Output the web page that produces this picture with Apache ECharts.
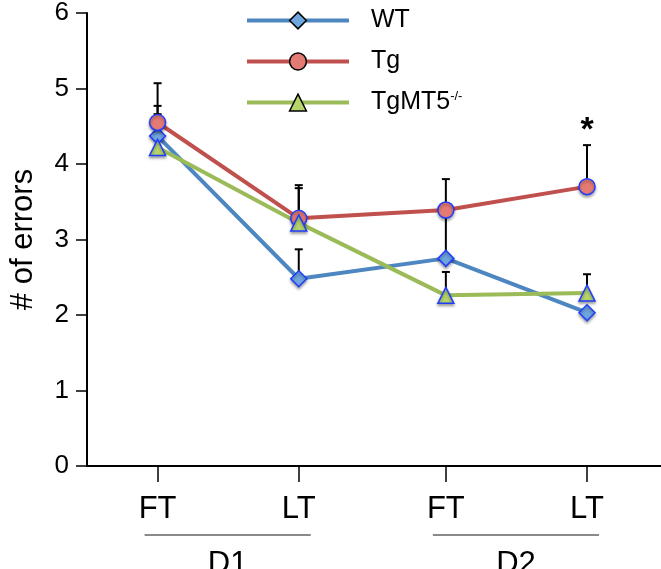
<!DOCTYPE html>
<html>
<head>
<meta charset="utf-8">
<script src="https://cdn.jsdelivr.net/npm/echarts@6/dist/echarts.min.js"></script>
<style>html,body{margin:0;padding:0;background:#fff;}#c{width:661px;height:569px;}</style>
</head>
<body>
<div id="c"></div>
<script>
// ---- data ----
var tickLabels = ['FT', 'LT', 'FT', 'LT'];
var xPositions = [0, 1, 2.042, 3.042];
var groupNames = ['D1', 'D2'];
var groupSpans = [[0, 1], [2, 3]];
var wtMean = [4.37, 2.48, 2.75, 2.03];
var wtTop  = [4.77, 2.87, 3.38, 2.03];
var tgMean = [4.55, 3.28, 3.39, 3.70];
var tgTop  = [5.07, 3.72, 3.80, 4.25];
var tmMean = [4.22, 3.22, 2.26, 2.29];
var tmTop  = [4.66, 3.68, 2.57, 2.54];
var starIndex = 3;
var yTicks = [0, 1, 2, 3, 4, 5, 6];

var FONT = '"Liberation Sans", Arial, Helvetica, sans-serif';
function pts(mean) { return mean.map(function (v, i) { return [xPositions[i], v]; }); }
function errs(mean, top) { return mean.map(function (v, i) { return [xPositions[i], v, top[i]]; }); }

var chart = echarts.init(document.getElementById('c'));

function errSeries(mean, top) {
  return {
    type: 'custom', z: 1, silent: true,
    data: errs(mean, top),
    encode: { x: 0, y: [1, 2] },
    renderItem: function (params, api) {
      var x = api.value(0), lo = api.value(1), hi = api.value(2);
      var p1 = api.coord([x, lo]), p2 = api.coord([x, hi]);
      var w = 4;
      return {
        type: 'group',
        children: [
          { type: 'line', shape: { x1: p1[0], y1: p1[1], x2: p2[0], y2: p2[1] }, style: { stroke: '#000', lineWidth: 2 } },
          { type: 'line', shape: { x1: p2[0] - w, y1: p2[1], x2: p2[0] + w, y2: p2[1] }, style: { stroke: '#000', lineWidth: 2 } }
        ]
      };
    }
  };
}

function lineSeries(name, mean, symbol, lineColor, fill) {
  return {
    name: name, type: 'line', z: 3,
    data: pts(mean),
    symbol: symbol, symbolSize: 16, showSymbol: true,
    lineStyle: { color: lineColor, width: 4 },
    itemStyle: { color: fill, borderColor: '#1f3dff', borderWidth: 1.5, shadowColor: 'rgba(0,0,0,0.35)', shadowBlur: 3, shadowOffsetY: 2 },
    emphasis: { disabled: true }
  };
}

var option = {
  animation: false,
  backgroundColor: '#fff',
  grid: { left: 79, right: 0, top: 10, bottom: 103, containLabel: false },
  legend: {
    orient: 'vertical', left: 240, top: 3,
    itemWidth: 102, itemHeight: 21, itemGap: 16,
    selectedMode: false,
    data: ['WT', 'Tg', 'TgMT5'],
    lineStyle: { width: 4 },
    itemStyle: { borderColor: '#000', borderWidth: 1.5, shadowBlur: 0, shadowOffsetY: 0 },
    textStyle: {
      fontFamily: FONT, fontSize: 25, color: '#000', padding: [0, 0, 0, 17],
      rich: { sup: { fontFamily: FONT, fontSize: 13, verticalAlign: 'top', padding: [0, 0, 12, 0] } }
    },
    formatter: function (n) { return n === 'TgMT5' ? 'TgMT5{sup|-/-}' : n; }
  },
  xAxis: {
    type: 'value', min: -0.5, max: 3.566,
    splitLine: { show: false },
    axisLine: { onZero: false, lineStyle: { color: '#000', width: 2 } },
    axisTick: { show: true, length: 16, inside: false, customValues: xPositions, lineStyle: { color: '#000', width: 1.5 } },
    axisLabel: {
      customValues: xPositions, margin: 28, fontFamily: FONT, fontSize: 31, color: '#000',
      formatter: function (v) { var i = xPositions.indexOf(v); return i >= 0 ? tickLabels[i] : ''; }
    }
  },
  yAxis: {
    type: 'value', min: 0, max: 6, interval: 1,
    name: '# of errors', nameLocation: 'middle', nameGap: 48, nameRotate: 90,
    nameTextStyle: { fontFamily: FONT, fontSize: 31, color: '#000' },
    splitLine: { show: false },
    axisLine: { show: true, onZero: false, lineStyle: { color: '#000', width: 2 } },
    axisTick: { show: true, length: 11, lineStyle: { color: '#000', width: 1.5 } },
    axisLabel: { margin: 18, fontFamily: FONT, fontSize: 26, color: '#000',
      formatter: function (v) { return yTicks.indexOf(v) >= 0 ? String(v) : ''; } }
  },
  series: [
    errSeries(wtMean, wtTop),
    errSeries(tgMean, tgTop),
    errSeries(tmMean, tmTop),
    lineSeries('WT', wtMean, 'diamond', '#4d86c0', '#6fa6de'),
    lineSeries('Tg', tgMean, 'circle', '#c0504d', '#e47a74'),
    lineSeries('TgMT5', tmMean, 'triangle', '#9bbb59', '#b7d36b')
  ]
};
chart.setOption(option);

// annotations: group bars, group names, significance star
var g = [];
groupSpans.forEach(function (s, k) {
  var a = chart.convertToPixel({ gridIndex: 0 }, [xPositions[s[0]], 0]);
  var b = chart.convertToPixel({ gridIndex: 0 }, [xPositions[s[1]], 0]);
  var x1 = a[0] - 13, x2 = b[0] + 12, y = a[1] + 69;
  g.push({ type: 'line', shape: { x1: x1, y1: y, x2: x2, y2: y }, style: { stroke: '#8a8a8a', lineWidth: 2 } });
  g.push({ type: 'text', x: (x1 + x2) / 2, y: y + 29, style: { text: groupNames[k], font: '31px ' + FONT, fill: '#000', align: 'center', verticalAlign: 'middle' } });
});
var sp = chart.convertToPixel({ gridIndex: 0 }, [xPositions[starIndex], tgTop[starIndex]]);
g.push({ type: 'text', x: sp[0], y: sp[1] - 15, style: { text: '*', font: 'bold 34px ' + FONT, fill: '#000', align: 'center', verticalAlign: 'middle' } });
chart.setOption({ graphic: g });
</script>
</body>
</html>
